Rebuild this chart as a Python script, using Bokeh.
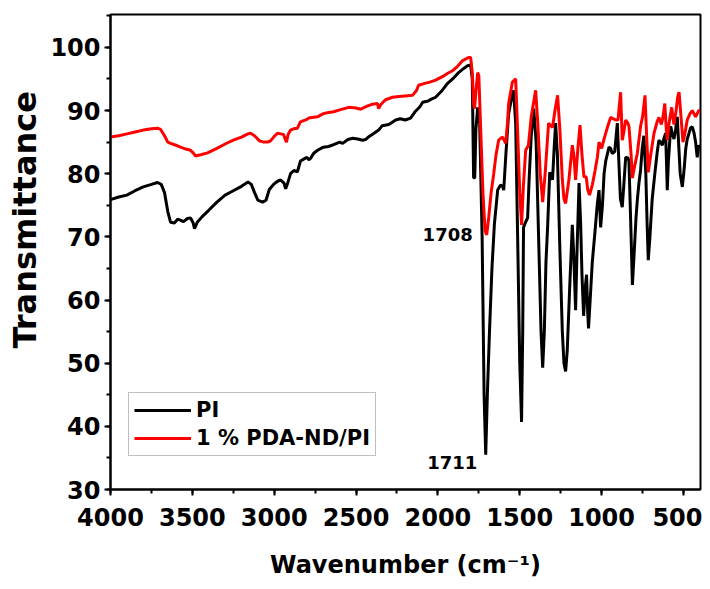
from bokeh.plotting import figure
from bokeh.models import Range1d, SingleIntervalTicker, Legend, LegendItem, Label, Title
from bokeh.embed import file_html
from bokeh.resources import INLINE

# ---- data ----
pi_wn = [4000, 3950, 3900, 3850, 3800, 3750, 3713, 3690, 3670, 3650, 3633, 3610, 3590, 3570, 3554,
         3530, 3511, 3495, 3487, 3470, 3440, 3400, 3350, 3300, 3250, 3200, 3160, 3140, 3120, 3100,
         3071, 3050, 3030, 3004, 2980, 2961, 2940, 2930, 2918, 2900, 2880, 2858, 2840, 2820, 2800,
         2790, 2778, 2760, 2735, 2700, 2668, 2637, 2600, 2582, 2550, 2521, 2490, 2460, 2442, 2420,
         2390, 2362, 2340, 2300, 2258, 2230, 2200, 2167, 2140, 2110, 2093, 2060, 2040, 2014, 1980,
         1941, 1910, 1874, 1840, 1819, 1800, 1790, 1782, 1775, 1768, 1757, 1745, 1730, 1718, 1708,
         1698, 1685, 1670, 1655, 1635, 1617, 1605, 1598, 1585, 1568, 1550, 1538, 1525, 1513, 1500,
         1489, 1482, 1477, 1465, 1452, 1443, 1430, 1415, 1400, 1385, 1370, 1360, 1350, 1340, 1330,
         1317, 1305, 1300, 1290, 1281, 1270, 1255, 1240, 1230, 1220, 1210, 1195, 1179, 1170, 1159,
         1150, 1138, 1128, 1120, 1110, 1100, 1092, 1085, 1080, 1070, 1057, 1040, 1026, 1016, 1006,
         995, 985, 975, 955, 945, 935, 920, 904, 895, 885, 874, 865, 853, 840, 833,
         822, 812, 800, 790, 782, 772, 762, 752, 742, 730, 722, 715, 705, 691, 675,
         660, 650, 640, 629, 620, 609, 604, 599, 592, 578, 570, 558, 548, 538, 528,
         520, 507, 495, 486, 477, 465, 456, 446, 436, 426, 416, 406, 400]
pi_t = [75.9, 76.3, 76.6, 77.3, 77.9, 78.3, 78.6, 78.3, 77.0, 74.0, 72.3, 72.2, 72.8, 72.6, 72.4,
        72.9, 73.0, 72.2, 71.3, 72.3, 73.2, 74.2, 75.5, 76.6, 77.3, 78.0, 78.7, 78.3, 77.0, 75.8,
        75.5, 75.8, 77.5, 78.3, 78.8, 79.0, 78.5, 77.6, 78.5, 80.0, 80.5, 80.3, 82.0, 82.3, 82.6,
        82.2, 82.4, 83.2, 83.7, 84.2, 84.3, 84.6, 85.0, 84.8, 85.4, 85.6, 85.5, 85.3, 85.4, 85.9,
        86.4, 86.9, 87.6, 87.8, 88.5, 88.7, 88.5, 88.8, 89.8, 90.6, 91.3, 91.5, 91.8, 92.1, 93.0,
        94.3, 95.0, 96.0, 96.7, 97.1, 97.2, 95.0, 79.4, 79.3, 87.0, 90.5, 88.0, 70.0, 45.0, 35.5,
        45.0, 55.0, 65.0, 72.0, 77.4, 78.2, 78.0, 77.4, 83.0, 89.5, 92.0, 93.2, 88.0, 70.0, 50.0,
        40.7, 55.0, 71.5, 72.3, 73.0, 79.0, 86.0, 90.3, 85.0, 70.0, 55.0, 49.3, 55.0, 66.0, 71.5,
        80.2, 79.5, 79.0, 84.0, 88.0, 83.0, 68.0, 55.0, 50.0, 48.7, 52.0, 62.0, 71.9, 67.0, 58.4,
        68.0, 78.5, 72.0, 64.0, 57.5, 62.0, 64.0, 58.0, 55.5, 60.0, 66.0, 71.0, 75.3, 77.4, 71.5,
        75.0, 80.0, 82.0, 84.2, 84.0, 83.2, 83.5, 88.0, 82.0, 76.0, 74.7, 78.0, 82.6, 82.5, 82.0,
        72.0, 62.4, 68.0, 73.0, 75.8, 78.5, 80.6, 84.0, 86.0, 80.0, 72.0, 66.3, 70.0, 76.0, 80.0,
        83.5, 85.3, 85.0, 84.5, 85.5, 86.4, 82.0, 77.4, 82.0, 87.5, 86.5, 85.5, 87.0, 89.0, 84.0,
        80.0, 77.9, 81.0, 84.0, 85.5, 86.5, 87.3, 87.4, 86.5, 85.0, 82.6, 84.5, 84.0]

nd_wn = [4000, 3950, 3900, 3850, 3800, 3750, 3713, 3694, 3670, 3650, 3633, 3600, 3572, 3540, 3511,
         3495, 3480, 3450, 3407, 3350, 3300, 3250, 3200, 3160, 3145, 3120, 3090, 3064, 3040, 3022,
         3000, 2980, 2960, 2943, 2930, 2925, 2915, 2900, 2882, 2858, 2840, 2800, 2790, 2736, 2700,
         2668, 2637, 2600, 2545, 2500, 2472, 2440, 2400, 2369, 2362, 2350, 2320, 2277, 2240, 2200,
         2155, 2130, 2118, 2080, 2050, 2014, 1970, 1940, 1910, 1880, 1849, 1813, 1800, 1790, 1782,
         1776, 1768, 1757, 1750, 1740, 1725, 1712, 1702, 1690, 1675, 1659, 1645, 1629, 1605, 1586,
         1575, 1568, 1545, 1525, 1515, 1500, 1489, 1478, 1464, 1447, 1430, 1403, 1390, 1375, 1360,
         1345, 1324, 1300, 1285, 1269, 1255, 1240, 1230, 1220, 1200, 1179, 1170, 1159, 1145, 1132,
         1120, 1108, 1094, 1085, 1074, 1057, 1040, 1026, 1016, 1000, 985, 965, 945, 930, 914,
         900, 884, 874, 865, 853, 840, 833, 820, 812, 800, 782, 762, 750, 735, 725,
         715, 700, 680, 660, 650, 635, 625, 614, 605, 599, 588, 572, 565, 558, 545,
         535, 527, 515, 503, 490, 477, 460, 446, 436, 426, 416, 406, 400]
nd_t = [85.8, 86.0, 86.3, 86.6, 86.9, 87.1, 87.2, 87.0, 86.0, 85.0, 84.8, 84.5, 84.2, 83.9, 83.7,
        83.3, 82.8, 83.0, 83.3, 84.0, 84.7, 85.3, 85.8, 86.3, 86.4, 86.0, 85.2, 85.0, 85.0, 85.2,
        85.9, 86.4, 86.3, 86.2, 85.3, 85.0, 86.2, 86.9, 87.1, 87.2, 88.2, 88.6, 88.8, 89.0, 89.5,
        89.7, 89.8, 90.1, 90.5, 90.4, 90.2, 90.6, 91.0, 91.1, 90.3, 90.9, 91.7, 92.1, 92.2, 92.3,
        92.4, 93.2, 94.0, 94.3, 94.5, 94.8, 95.4, 95.9, 96.3, 97.0, 97.9, 98.4, 98.4, 96.0, 91.0,
        90.3, 93.0, 96.0, 95.5, 88.0, 77.0, 71.0, 70.3, 73.0, 77.0, 80.0, 83.0, 85.3, 85.8, 84.8,
        88.0, 91.1, 94.5, 95.0, 88.0, 77.0, 71.9, 78.0, 83.7, 84.5, 89.0, 93.2, 88.0, 80.0, 75.5,
        80.0, 88.0, 87.3, 90.0, 92.4, 87.0, 79.0, 76.0, 75.3, 79.0, 84.5, 83.0, 79.0, 84.0, 87.7,
        83.0, 79.5, 79.5, 77.5, 76.6, 78.2, 80.5, 82.6, 85.0, 84.0, 85.5, 87.3, 88.9, 88.7, 88.5,
        88.5, 92.9, 85.3, 86.5, 88.5, 88.0, 87.5, 83.0, 79.3, 81.0, 83.2, 87.5, 89.0, 92.4, 86.0,
        80.2, 83.0, 86.4, 88.3, 88.9, 87.8, 89.0, 91.1, 87.0, 85.3, 88.0, 90.5, 89.0, 87.8, 90.0,
        92.2, 92.9, 89.0, 85.0, 86.5, 88.5, 89.5, 90.0, 89.5, 89.0, 89.5, 90.0, 90.0]

series_names = ["PI", "1 % PDA-ND/PI"]
series_colors = ["#000000", "#ff0000"]

annot_text = ["1708", "1711"]
annot_wn = [1708, 1711]
annot_t = [70.3, 35.5]

x_ticks_major = 500
y_ticks_major = 10

FONT = "DejaVu Sans"

p = figure(width=702, height=581, output_backend="svg", toolbar_location=None,
           x_range=Range1d(4000, 396), y_range=Range1d(30, 105.2),
           min_border_left=110, min_border_right=2, min_border_top=14, min_border_bottom=91)

p.xgrid.visible = False
p.ygrid.visible = False
p.outline_line_color = "black"
p.outline_line_width = 2
p.outline_line_alpha = 1.0
p.background_fill_color = "white"
p.border_fill_color = "white"

r_pi = p.line(pi_wn, pi_t, line_color=series_colors[0], line_width=3)
r_nd = p.line(nd_wn, nd_t, line_color=series_colors[1], line_width=3)

for ax in (p.xaxis[0], p.yaxis[0]):
    ax.axis_line_width = 2
    ax.major_tick_line_width = 2
    ax.minor_tick_line_width = 2
    ax.major_tick_out = 6
    ax.major_tick_in = 0
    ax.minor_tick_out = 4
    ax.minor_tick_in = 0
    ax.major_label_text_font = FONT
    ax.major_label_text_font_style = "bold"
    ax.major_label_text_font_size = "24px"
    ax.major_label_text_color = "black"
    ax.axis_label_text_font = FONT
    ax.axis_label_text_font_style = "bold"
    ax.axis_label_text_color = "black"

p.xaxis.ticker = SingleIntervalTicker(interval=x_ticks_major, num_minor_ticks=2)
p.yaxis.ticker = SingleIntervalTicker(interval=y_ticks_major, num_minor_ticks=2)
p.xaxis.major_label_standoff = 12
p.yaxis.major_label_standoff = 4
p.xaxis.axis_label = "Wavenumber (cm\u207b\u00b9)"
p.xaxis.axis_label_text_font_size = "24px"
p.xaxis.axis_label_standoff = 22

# y-axis title as a left-side title, shifted up to where the reference has it
ytitle = Title(text="Transmittance", align="left", offset=141,
               text_font=FONT, text_font_style="bold", text_font_size="32px",
               text_color="black", standoff=7)
p.add_layout(ytitle, "left")

offsets = [(-13, 0), (-8, -8)]
for t, wx, wy, (dx, dy) in zip(annot_text, annot_wn, annot_t, offsets):
    p.add_layout(Label(x=wx, y=wy, text=t, x_offset=dx, y_offset=dy, text_align="right",
                       text_baseline="middle", text_font=FONT, text_font_style="bold",
                       text_font_size="18px", text_color="black"))

legend = Legend(items=[LegendItem(label=series_names[0], renderers=[r_pi]),
                       LegendItem(label=series_names[1], renderers=[r_nd])],
                location=(18, 33))
legend.label_text_font = FONT
legend.label_text_font_style = "bold"
legend.label_text_font_size = "21px"
legend.label_text_color = "black"
legend.glyph_width = 57
legend.glyph_height = 24
legend.label_standoff = 5
legend.spacing = 4
legend.padding = 5
legend.margin = 0
legend.border_line_color = "#808080"
legend.border_line_width = 1
legend.background_fill_color = "white"
legend.background_fill_alpha = 1.0
p.add_layout(legend)

open("out.html", "w").write(file_html(p, INLINE))
